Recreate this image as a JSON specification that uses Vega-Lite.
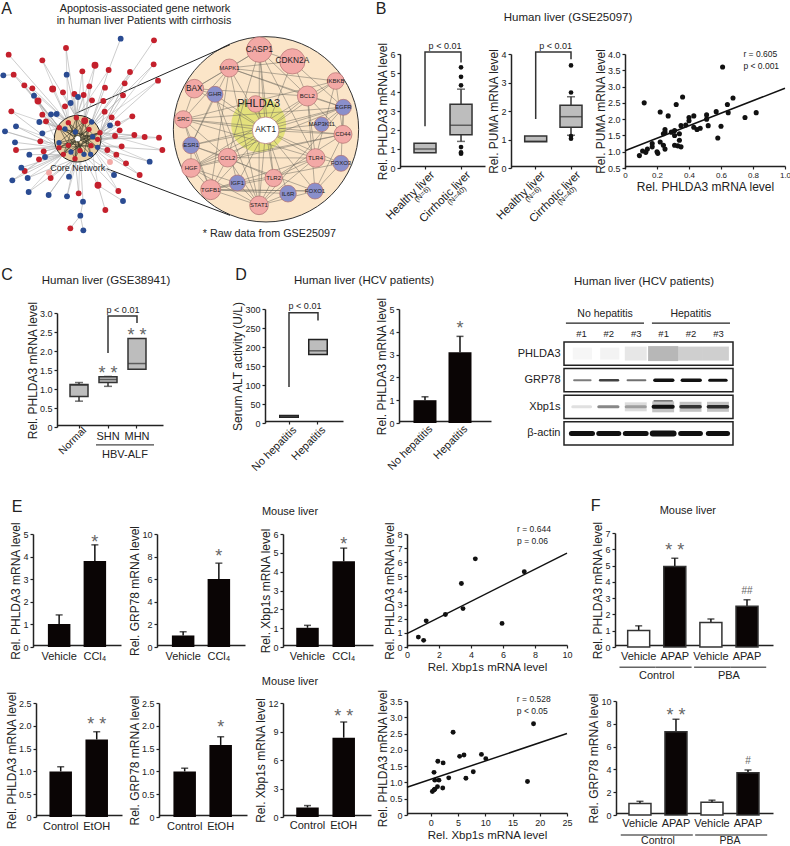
{"$schema":"https://vega.github.io/schema/vega-lite/v6.json","width":790,"height":846,"autosize":{"type":"fit","contains":"padding"},"padding":0,"background":"white",
"config":{"view":{"stroke":null},"axis":{"grid":false,"domainColor":"#222","domainWidth":1.5,"tickColor":"#222","tickWidth":1.2,"tickSize":3,"labelColor":"#222","labelFont":"Liberation Sans","labelFontSize":9,"titleFont":"Liberation Sans","titleFontSize":12,"titleFontWeight":"normal","titleColor":"#222","labelPadding":2,"titlePadding":0,"labelOverlap":false,"labelFlush":false},"text":{"font":"Liberation Sans","color":"#222"},"tick":{"color":"#333","thickness":1.5}},
"resolve":{"scale":{"x":"independent","y":"independent","fill":"independent","color":"independent","size":"independent","opacity":"independent"},"axis":{"x":"independent","y":"independent"}},
"datasets":{
"outer":[{"x":26,"y":158,"k":"r","tx":205,"ty":362},{"x":127,"y":175,"k":"r","tx":229,"ty":347},{"x":198,"y":138,"k":"r","tx":229,"ty":347},{"x":462,"y":115,"k":"r","tx":374,"ty":244},{"x":285,"y":190,"k":"r","tx":254,"ty":356},{"x":461,"y":187,"k":"r","tx":267,"ty":382},{"x":247,"y":208,"k":"r","tx":254,"ty":356},{"x":326,"y":204,"k":"r","tx":267,"ty":382},{"x":390,"y":210,"k":"r","tx":267,"ty":382},{"x":41,"y":218,"k":"r","tx":178,"ty":377},{"x":474,"y":236,"k":"r","tx":300,"ty":392},{"x":73,"y":250,"k":"r","tx":178,"ty":377},{"x":97,"y":259,"k":"r","tx":205,"ty":362},{"x":158,"y":261,"k":"r","tx":205,"ty":362},{"x":189,"y":271,"k":"r","tx":229,"ty":347},{"x":223,"y":276,"k":"r","tx":229,"ty":347},{"x":268,"y":253,"k":"r","tx":254,"ty":356},{"x":315,"y":257,"k":"r","tx":267,"ty":382},{"x":374,"y":244,"k":"r","tx":267,"ty":382},{"x":369,"y":280,"k":"r","tx":300,"ty":392},{"x":251,"y":279,"k":"r","tx":229,"ty":347},{"x":114,"y":297,"k":"r","tx":178,"ty":377},{"x":276,"y":295,"k":"r","tx":254,"ty":356},{"x":310,"y":297,"k":"r","tx":267,"ty":382},{"x":195,"y":313,"k":"r","tx":205,"ty":362},{"x":34,"y":328,"k":"r","tx":177,"ty":437},{"x":127,"y":338,"k":"r","tx":178,"ty":377},{"x":314,"y":329,"k":"r","tx":300,"ty":392},{"x":138,"y":358,"k":"r","tx":178,"ty":377},{"x":335,"y":346,"k":"r","tx":300,"ty":392},{"x":397,"y":343,"k":"r","tx":300,"ty":392},{"x":353,"y":364,"k":"r","tx":300,"ty":392},{"x":359,"y":385,"k":"r","tx":293,"ty":412},{"x":403,"y":399,"k":"r","tx":293,"ty":412},{"x":434,"y":405,"k":"r","tx":293,"ty":412},{"x":477,"y":407,"k":"r","tx":293,"ty":412},{"x":345,"y":402,"k":"r","tx":293,"ty":412},{"x":487,"y":444,"k":"r","tx":273,"ty":431},{"x":365,"y":433,"k":"r","tx":273,"ty":431},{"x":349,"y":458,"k":"r","tx":273,"ty":431},{"x":322,"y":444,"k":"r","tx":273,"ty":431},{"x":121,"y":418,"k":"r","tx":205,"ty":430},{"x":131,"y":448,"k":"r","tx":177,"ty":437},{"x":48,"y":444,"k":"r","tx":177,"ty":437},{"x":117,"y":472,"k":"r","tx":190,"ty":457},{"x":74,"y":507,"k":"r","tx":190,"ty":457},{"x":152,"y":528,"k":"r","tx":225,"ty":470},{"x":378,"y":484,"k":"r","tx":273,"ty":431},{"x":419,"y":519,"k":"r","tx":273,"ty":431},{"x":294,"y":550,"k":"r","tx":240,"ty":446},{"x":355,"y":567,"k":"r","tx":240,"ty":446},{"x":236,"y":574,"k":"r","tx":225,"ty":470},{"x":316,"y":624,"k":"r","tx":294,"ty":550},{"x":211,"y":679,"k":"r","tx":241,"ty":641},{"x":330,"y":480,"k":"up","tx":273,"ty":431},{"x":147,"y":512,"k":"up","tx":190,"ty":457},
{"x":362,"y":110,"k":"b","tx":326,"ty":204},{"x":200,"y":218,"k":"b","tx":229,"ty":347},{"x":10,"y":220,"k":"b","tx":41,"ty":218},{"x":102,"y":281,"k":"b","tx":178,"ty":377},{"x":234,"y":285,"k":"b","tx":229,"ty":347},{"x":212,"y":303,"k":"b","tx":229,"ty":347},{"x":153,"y":337,"k":"b","tx":205,"ty":362},{"x":170,"y":336,"k":"b","tx":205,"ty":362},{"x":118,"y":360,"k":"b","tx":178,"ty":377},{"x":48,"y":373,"k":"b","tx":177,"ty":437},{"x":15,"y":388,"k":"b","tx":177,"ty":437},{"x":127,"y":394,"k":"b","tx":178,"ty":377},{"x":330,"y":370,"k":"b","tx":293,"ty":412},{"x":45,"y":421,"k":"b","tx":177,"ty":437},{"x":88,"y":458,"k":"b","tx":190,"ty":457},{"x":135,"y":465,"k":"b","tx":190,"ty":457},{"x":64,"y":497,"k":"b","tx":190,"ty":457},{"x":37,"y":535,"k":"b","tx":190,"ty":457},{"x":83,"y":528,"k":"b","tx":225,"ty":470},{"x":207,"y":524,"k":"b","tx":225,"ty":470},{"x":342,"y":519,"k":"b","tx":240,"ty":446},{"x":449,"y":479,"k":"b","tx":273,"ty":431},{"x":86,"y":570,"k":"b","tx":225,"ty":470},{"x":146,"y":579,"k":"b","tx":225,"ty":470},{"x":201,"y":583,"k":"b","tx":225,"ty":470},{"x":249,"y":599,"k":"b","tx":240,"ty":446},{"x":369,"y":597,"k":"b","tx":294,"ty":550},{"x":241,"y":641,"k":"b","tx":249,"ty":599},{"x":250,"y":685,"k":"b","tx":241,"ty":641}],
"links":[{"x":73,"y":250,"tx":205,"ty":430},{"x":97,"y":259,"tx":177,"ty":437},{"x":41,"y":218,"tx":205,"ty":362},{"x":114,"y":297,"tx":205,"ty":430},{"x":34,"y":328,"tx":178,"ty":377},{"x":48,"y":373,"tx":205,"ty":430},{"x":15,"y":388,"tx":121,"ty":418},{"x":48,"y":444,"tx":205,"ty":430},{"x":74,"y":507,"tx":177,"ty":437},{"x":37,"y":535,"tx":177,"ty":437},{"x":83,"y":528,"tx":190,"ty":457},{"x":86,"y":570,"tx":190,"ty":457},{"x":146,"y":579,"tx":240,"ty":446},{"x":201,"y":583,"tx":240,"ty":446},{"x":236,"y":574,"tx":240,"ty":446},{"x":294,"y":550,"tx":273,"ty":431},{"x":355,"y":567,"tx":273,"ty":431},{"x":342,"y":519,"tx":273,"ty":431},{"x":419,"y":519,"tx":293,"ty":412},{"x":378,"y":484,"tx":293,"ty":412},{"x":449,"y":479,"tx":293,"ty":412},{"x":487,"y":444,"tx":300,"ty":392},{"x":477,"y":407,"tx":300,"ty":392},{"x":403,"y":399,"tx":300,"ty":392},{"x":397,"y":343,"tx":293,"ty":412},{"x":474,"y":236,"tx":267,"ty":382},{"x":461,"y":187,"tx":300,"ty":392},{"x":390,"y":210,"tx":300,"ty":392},{"x":374,"y":244,"tx":300,"ty":392},{"x":369,"y":280,"tx":267,"ty":382},{"x":326,"y":204,"tx":229,"ty":347},{"x":285,"y":190,"tx":229,"ty":347},{"x":247,"y":208,"tx":229,"ty":347},{"x":198,"y":138,"tx":205,"ty":362},{"x":127,"y":175,"tx":205,"ty":362},{"x":127,"y":338,"tx":205,"ty":430},{"x":353,"y":364,"tx":273,"ty":431},{"x":345,"y":402,"tx":273,"ty":431},{"x":117,"y":472,"tx":205,"ty":430},{"x":131,"y":448,"tx":205,"ty":430}],
"coreNodes":[{"x":205,"y":362,"k":"r"},{"x":229,"y":347,"k":"r"},{"x":178,"y":377,"k":"r"},{"x":267,"y":382,"k":"r"},{"x":300,"y":392,"k":"r"},{"x":293,"y":412,"k":"r"},{"x":205,"y":430,"k":"r"},{"x":177,"y":437,"k":"r"},{"x":240,"y":446,"k":"r"},{"x":273,"y":431,"k":"r"},{"x":190,"y":457,"k":"r"},{"x":225,"y":470,"k":"r"},{"x":195,"y":381,"k":"b"},{"x":226,"y":390,"k":"b"},{"x":278,"y":404,"k":"b"},{"x":293,"y":436,"k":"b"},{"x":213,"y":450,"k":"b"},{"x":252,"y":457,"k":"b"},{"x":272,"y":457,"k":"b"},{"x":177,"y":422,"k":"b"},{"x":275,"y":360,"k":"b"},{"x":233,"y":410,"k":"hub"}],
"coreEdges":[{"x":205,"y":362,"tx":273,"ty":431},{"x":229,"y":347,"tx":225,"ty":470},{"x":254,"y":356,"tx":190,"ty":457},{"x":178,"y":377,"tx":293,"ty":412},{"x":267,"y":382,"tx":177,"ty":437},{"x":300,"y":392,"tx":205,"ty":430},{"x":293,"y":436,"tx":195,"ty":381},{"x":240,"y":446,"tx":226,"ty":390},{"x":213,"y":450,"tx":278,"ty":404},{"x":252,"y":457,"tx":205,"ty":362},{"x":272,"y":457,"tx":229,"ty":347},{"x":177,"y":422,"tx":300,"ty":392},{"x":275,"y":360,"tx":190,"ty":457},{"x":233,"y":410,"tx":205,"ty":362},{"x":233,"y":410,"tx":229,"ty":347},{"x":233,"y":410,"tx":254,"ty":356},{"x":233,"y":410,"tx":178,"ty":377},{"x":233,"y":410,"tx":267,"ty":382},{"x":233,"y":410,"tx":300,"ty":392},{"x":233,"y":410,"tx":293,"ty":412},{"x":233,"y":410,"tx":205,"ty":430},{"x":233,"y":410,"tx":177,"ty":437},{"x":233,"y":410,"tx":240,"ty":446},{"x":233,"y":410,"tx":273,"ty":431},{"x":233,"y":410,"tx":190,"ty":457},{"x":233,"y":410,"tx":225,"ty":470},{"x":178,"y":377,"tx":240,"ty":446},{"x":195,"y":381,"tx":272,"ty":457},{"x":205,"y":362,"tx":293,"ty":436},{"x":229,"y":347,"tx":293,"ty":412},{"x":254,"y":356,"tx":177,"ty":422},{"x":254,"y":356,"tx":225,"ty":470},{"x":178,"y":377,"tx":273,"ty":431},{"x":177,"y":437,"tx":300,"ty":392},{"x":190,"y":457,"tx":278,"ty":404},{"x":225,"y":470,"tx":267,"ty":382},{"x":205,"y":430,"tx":267,"ty":382},{"x":177,"y":422,"tx":293,"ty":436},{"x":205,"y":362,"tx":252,"ty":457},{"x":229,"y":347,"tx":190,"ty":457},{"x":178,"y":377,"tx":225,"ty":470},{"x":300,"y":392,"tx":213,"ty":450},{"x":293,"y":412,"tx":195,"ty":381},{"x":267,"y":382,"tx":252,"ty":457},{"x":254,"y":356,"tx":272,"ty":457},{"x":273,"y":431,"tx":177,"ty":437}],
"genes":[{"gene":"CASP1","x":778,"y":143,"k":"up","d":76,"l":2},{"gene":"CDKN2A","x":877,"y":178,"k":"up","d":76,"l":2},{"gene":"MAPK1","x":688,"y":198,"k":"up","d":54,"l":3},{"gene":"IKBKB","x":1007,"y":237,"k":"up","d":50,"l":3},{"gene":"BAX","x":583,"y":260,"k":"up","d":56,"l":2},{"gene":"GHR","x":645,"y":277,"k":"down","d":48,"l":3},{"gene":"BCL2","x":922,"y":282,"k":"up","d":60,"l":3},{"gene":"PHLDA3","x":767,"y":306,"k":"up","d":50,"l":1},{"gene":"EGFR","x":1030,"y":316,"k":"down","d":48,"l":3},{"gene":"SRC","x":550,"y":352,"k":"up","d":52,"l":3},{"gene":"MAP3K11","x":965,"y":367,"k":"down","d":44,"l":3},{"gene":"AKT1","x":797,"y":385,"k":"hub","d":80,"l":2},{"gene":"CD44","x":1029,"y":397,"k":"up","d":54,"l":3},{"gene":"ESR1","x":573,"y":430,"k":"down","d":50,"l":3},{"gene":"CCL2","x":683,"y":467,"k":"up","d":56,"l":3},{"gene":"TLR4","x":947,"y":468,"k":"up","d":56,"l":3},{"gene":"FOXO3","x":1023,"y":484,"k":"down","d":48,"l":3},{"gene":"HGF","x":573,"y":498,"k":"up","d":56,"l":3},{"gene":"IGF1","x":712,"y":543,"k":"down","d":48,"l":3},{"gene":"TLR2","x":821,"y":528,"k":"up","d":52,"l":3},{"gene":"TGFB1","x":632,"y":563,"k":"up","d":60,"l":3},{"gene":"IL6R","x":864,"y":575,"k":"down","d":50,"l":3},{"gene":"FOXO1","x":945,"y":567,"k":"down","d":48,"l":3},{"gene":"STAT1","x":777,"y":610,"k":"up","d":56,"l":3}],
"geneLinks":[{"s":"AKT1","t":"CASP1"},{"s":"AKT1","t":"CDKN2A"},{"s":"AKT1","t":"MAPK1"},{"s":"AKT1","t":"IKBKB"},{"s":"AKT1","t":"BAX"},{"s":"AKT1","t":"GHR"},{"s":"AKT1","t":"BCL2"},{"s":"AKT1","t":"PHLDA3"},{"s":"AKT1","t":"EGFR"},{"s":"AKT1","t":"SRC"},{"s":"AKT1","t":"MAP3K11"},{"s":"AKT1","t":"CD44"},{"s":"AKT1","t":"ESR1"},{"s":"AKT1","t":"CCL2"},{"s":"AKT1","t":"TLR4"},{"s":"AKT1","t":"FOXO3"},{"s":"AKT1","t":"HGF"},{"s":"AKT1","t":"IGF1"},{"s":"AKT1","t":"TLR2"},{"s":"AKT1","t":"TGFB1"},{"s":"AKT1","t":"IL6R"},{"s":"AKT1","t":"FOXO1"},{"s":"AKT1","t":"STAT1"},{"s":"CASP1","t":"MAPK1"},{"s":"CASP1","t":"CDKN2A"},{"s":"CASP1","t":"BCL2"},{"s":"CASP1","t":"TLR4"},{"s":"CASP1","t":"TLR2"},{"s":"CASP1","t":"STAT1"},{"s":"CASP1","t":"CCL2"},{"s":"CASP1","t":"BAX"},{"s":"CDKN2A","t":"BCL2"},{"s":"CDKN2A","t":"MAPK1"},{"s":"CDKN2A","t":"EGFR"},{"s":"MAPK1","t":"IKBKB"},{"s":"MAPK1","t":"BCL2"},{"s":"MAPK1","t":"EGFR"},{"s":"MAPK1","t":"BAX"},{"s":"MAPK1","t":"SRC"},{"s":"MAPK1","t":"TGFB1"},{"s":"MAPK1","t":"STAT1"},{"s":"MAPK1","t":"ESR1"},{"s":"BAX","t":"BCL2"},{"s":"BAX","t":"SRC"},{"s":"BAX","t":"GHR"},{"s":"GHR","t":"IGF1"},{"s":"GHR","t":"ESR1"},{"s":"GHR","t":"STAT1"},{"s":"IKBKB","t":"BCL2"},{"s":"IKBKB","t":"TLR4"},{"s":"IKBKB","t":"CD44"},{"s":"IKBKB","t":"SRC"},{"s":"BCL2","t":"EGFR"},{"s":"BCL2","t":"CD44"},{"s":"BCL2","t":"TLR4"},{"s":"BCL2","t":"HGF"},{"s":"BCL2","t":"FOXO1"},{"s":"EGFR","t":"SRC"},{"s":"EGFR","t":"CD44"},{"s":"EGFR","t":"FOXO3"},{"s":"EGFR","t":"ESR1"},{"s":"EGFR","t":"HGF"},{"s":"EGFR","t":"STAT1"},{"s":"EGFR","t":"MAP3K11"},{"s":"SRC","t":"ESR1"},{"s":"SRC","t":"CD44"},{"s":"SRC","t":"TGFB1"},{"s":"SRC","t":"CCL2"},{"s":"SRC","t":"TLR4"},{"s":"CD44","t":"HGF"},{"s":"CD44","t":"CCL2"},{"s":"CD44","t":"FOXO1"},{"s":"CD44","t":"TLR2"},{"s":"ESR1","t":"HGF"},{"s":"ESR1","t":"CCL2"},{"s":"ESR1","t":"TGFB1"},{"s":"ESR1","t":"FOXO1"},{"s":"CCL2","t":"TLR4"},{"s":"CCL2","t":"TLR2"},{"s":"CCL2","t":"HGF"},{"s":"CCL2","t":"STAT1"},{"s":"CCL2","t":"TGFB1"},{"s":"TLR4","t":"TLR2"},{"s":"TLR4","t":"STAT1"},{"s":"TLR4","t":"FOXO3"},{"s":"TLR4","t":"TGFB1"},{"s":"HGF","t":"IGF1"},{"s":"HGF","t":"TGFB1"},{"s":"HGF","t":"STAT1"},{"s":"IGF1","t":"TGFB1"},{"s":"IGF1","t":"STAT1"},{"s":"IGF1","t":"FOXO3"},{"s":"TLR2","t":"STAT1"},{"s":"TLR2","t":"TGFB1"},{"s":"TGFB1","t":"STAT1"},{"s":"TGFB1","t":"FOXO1"},{"s":"IL6R","t":"STAT1"},{"s":"IL6R","t":"TGFB1"},{"s":"FOXO1","t":"STAT1"},{"s":"FOXO1","t":"TGFB1"},{"s":"FOXO1","t":"FOXO3"}]
},
"layer":[
{"encoding":{"x":{"field":"x","type":"quantitative","scale":{"domain":[0,1140],"range":[0,380],"nice":false,"zero":false},"axis":null},"y":{"field":"y","type":"quantitative","scale":{"domain":[0,780],"range":[0,260],"nice":false,"zero":false},"axis":null}},
"layer":[
{"data":{"values":[{"x":798,"y":382}]},"mark":{"type":"circle","size":34336,"fill":"#fbe5c8","stroke":"#333","strokeWidth":1,"opacity":1}},
{"data":{"values":[{"x":225,"y":335,"tx":690,"ty":128},{"x":320,"y":500,"tx":690,"ty":640}]},"mark":{"type":"rule","color":"#222","strokeWidth":1},"encoding":{"x2":{"field":"tx"},"y2":{"field":"ty"}}},
{"data":{"name":"links"},"mark":{"type":"rule","color":"#aaa","strokeWidth":0.5},"encoding":{"x2":{"field":"tx"},"y2":{"field":"ty"}}},
{"data":{"name":"outer"},"mark":{"type":"rule","color":"#aaa","strokeWidth":0.6},"encoding":{"x2":{"field":"tx"},"y2":{"field":"ty"}}},
{"data":{"values":[{"x":233,"y":410}]},"mark":{"type":"circle","size":2178,"fill":"#e9cfa3","stroke":"#222","strokeWidth":1,"opacity":1}},
{"data":{"name":"coreEdges"},"mark":{"type":"rule","color":"#3a3a2a","strokeWidth":0.6},"encoding":{"x2":{"field":"tx"},"y2":{"field":"ty"}}},
{"data":{"name":"outer"},"mark":{"type":"circle","size":34,"opacity":1},"encoding":{"fill":{"field":"k","type":"nominal","scale":{"domain":["r","b","up","down","hub"],"range":["#c4202c","#2a4b92","#f3a9a6","#8a8fcb","#ffffff"]},"legend":null}}},
{"data":{"values":[{"x":285,"y":190},{"x":254,"y":356},{"x":158,"y":261},{"x":114,"y":297},{"x":294,"y":550}]},"mark":{"type":"circle","size":48,"color":"#c4202c","opacity":1}},
{"data":{"name":"coreNodes"},"mark":{"type":"circle","size":28,"opacity":1},"encoding":{"fill":{"field":"k","type":"nominal","scale":{"domain":["r","b","up","down","hub"],"range":["#c4202c","#2a4b92","#f3a9a6","#8a8fcb","#ffffff"]},"legend":null}}},
{"data":{"values":[{"x":776,"y":368}]},"mark":{"type":"circle","size":3025,"fill":"#dfe16e","opacity":0.85}},
{"data":{"name":"geneLinks"},"transform":[{"lookup":"s","from":{"data":{"name":"genes"},"key":"gene","fields":["x","y"]}},{"lookup":"t","from":{"data":{"name":"genes"},"key":"gene","fields":["x","y"]},"as":["tx","ty"]}],"mark":{"type":"rule","color":"#6f6a60","strokeWidth":0.5},"encoding":{"x2":{"field":"tx"},"y2":{"field":"ty"}}},
{"data":{"name":"genes"},"layer":[
{"mark":{"type":"circle","stroke":"#b07070","strokeWidth":0.7,"opacity":1},"encoding":{"fill":{"field":"k","type":"nominal","scale":{"domain":["r","b","up","down","hub"],"range":["#c4202c","#2a4b92","#f3a9a6","#8a8fcb","#ffffff"]},"legend":null},"size":{"field":"d","type":"quantitative","scale":{"type":"pow","exponent":2,"domain":[0,100],"range":[0,1111]},"legend":null}}},
{"transform":[{"filter":"datum.l==1"}],"mark":{"type":"text","fontSize":11,"dx":3,"color":"#222"},"encoding":{"text":{"field":"gene"}}},
{"transform":[{"filter":"datum.l==2"}],"mark":{"type":"text","fontSize":8.3,"color":"#222"},"encoding":{"text":{"field":"gene"}}},
{"transform":[{"filter":"datum.l==3"}],"mark":{"type":"text","fontSize":6,"color":"#222"},"encoding":{"text":{"field":"gene"}}}]},
{"data":{"values":[{"x":435,"y":21,"t":"Apoptosis-associated gene network"},{"x":432,"y":58,"t":"in human liver Patients with cirrhosis"},{"x":808,"y":697,"t":"* Raw data from GSE25097"}]},"mark":{"type":"text","fontSize":10.8},"encoding":{"text":{"field":"t"}}},
{"data":{"values":[{"x":233,"y":497,"t":"Core Network"}]},"mark":{"type":"text","fontSize":9},"encoding":{"text":{"field":"t"}}},
{"data":{"values":[{"x":20,"y":20,"t":"A"}]},"mark":{"type":"text","fontSize":16},"encoding":{"text":{"field":"t"}}}
]},

{"encoding":{"x":{"field":"c","type":"nominal","scale":{"type":"band","domain":["Healthy liver","Cirrhotic liver"],"range":[400,485],"paddingInner":0,"paddingOuter":0.18,"align":0.54},"axis":{"orient":"bottom","offset":-680,"title":null,"labelAngle":-45,"labelAlign":"right","labelBaseline":"middle","labelFontSize":11.5,"labelOffset":8,"labelPadding":4}},"y":{"field":"v","type":"quantitative","scale":{"domain":[0,6],"range":[166,52],"nice":false},"axis":{"orient":"left","offset":-400,"values":[0,1,2,3,4,5,6],"title":"Rel. PHLDA3 mRNA level"}}},
"layer":[
{"data":{"values":[{"c":"Healthy liver","v":0.8,"u":1.3,"m":1.0},{"c":"Cirrhotic liver","v":1.75,"u":3.35,"m":2.25,"lo":1.4,"hi":4.15}]},"layer":[
{"mark":{"type":"rule","color":"#333","strokeWidth":1.5},"encoding":{"y":{"field":"lo","type":"quantitative"},"y2":{"field":"hi"}}},
{"mark":{"type":"tick","size":8},"encoding":{"y":{"field":"lo","type":"quantitative"}}},
{"mark":{"type":"tick","size":8},"encoding":{"y":{"field":"hi","type":"quantitative"}}},
{"mark":{"type":"bar","size":22,"fill":"#bdbdbd","stroke":"#333","strokeWidth":1.5},"encoding":{"y2":{"field":"u"}}},
{"mark":{"type":"tick","size":22},"encoding":{"y":{"field":"m","type":"quantitative"}}}]},
{"data":{"values":[{"c":"Cirrhotic liver","v":0.75},{"c":"Cirrhotic liver","v":0.82},{"c":"Cirrhotic liver","v":1.1},{"c":"Cirrhotic liver","v":4.35},{"c":"Cirrhotic liver","v":4.8},{"c":"Cirrhotic liver","v":5.3}]},"mark":{"type":"circle","size":22,"color":"#111","opacity":1}},
{"data":{"values":[{"c":"Healthy liver","v":2.2,"o":1},{"c":"Healthy liver","v":6.1,"o":2},{"c":"Cirrhotic liver","v":6.1,"o":3},{"c":"Cirrhotic liver","v":5.55,"o":4}]},"mark":{"type":"line","color":"#333","strokeWidth":1.5},"encoding":{"order":{"field":"o"}}},
{"data":{"values":[{"c":"Healthy liver","v":6.42,"t":"p < 0.01"}]},"mark":{"type":"text","fontSize":9,"dx":20},"encoding":{"text":{"field":"t"}}},
{"data":{"values":[{"c":"Healthy liver","v":-1.26,"t":"(N=6)"},{"c":"Cirrhotic liver","v":-1.26,"t":"(N=40)"}]},"mark":{"type":"text","fontSize":7.5,"angle":315,"align":"right","dx":6},"encoding":{"text":{"field":"t"}}}
]},

{"encoding":{"x":{"field":"c","type":"nominal","scale":{"type":"band","domain":["Healthy liver","Cirrhotic liver"],"range":[511,597],"paddingInner":0,"paddingOuter":0.218,"align":0.458},"axis":{"orient":"bottom","offset":-680,"title":null,"labelAngle":-45,"labelAlign":"right","labelBaseline":"middle","labelFontSize":11.5,"labelOffset":8,"labelPadding":4}},"y":{"field":"v","type":"quantitative","scale":{"domain":[0,4],"range":[166,52],"nice":false},"axis":{"orient":"left","offset":-511,"values":[0,1,2,3,4],"title":"Rel. PUMA mRNA level"}}},
"layer":[
{"data":{"values":[{"c":"Healthy liver","v":0.92,"u":1.12,"m":0.94},{"c":"Cirrhotic liver","v":1.43,"u":2.2,"m":1.8,"lo":1.15,"hi":2.5}]},"layer":[
{"mark":{"type":"rule","color":"#333","strokeWidth":1.5},"encoding":{"y":{"field":"lo","type":"quantitative"},"y2":{"field":"hi"}}},
{"mark":{"type":"tick","size":8},"encoding":{"y":{"field":"lo","type":"quantitative"}}},
{"mark":{"type":"tick","size":8},"encoding":{"y":{"field":"hi","type":"quantitative"}}},
{"mark":{"type":"bar","size":22,"fill":"#bdbdbd","stroke":"#333","strokeWidth":1.5},"encoding":{"y2":{"field":"u"}}},
{"mark":{"type":"tick","size":22},"encoding":{"y":{"field":"m","type":"quantitative"}}}]},
{"data":{"values":[{"c":"Cirrhotic liver","v":1.03},{"c":"Cirrhotic liver","v":1.12},{"c":"Cirrhotic liver","v":2.65},{"c":"Cirrhotic liver","v":3.6}]},"mark":{"type":"circle","size":22,"color":"#111","opacity":1}},
{"data":{"values":[{"c":"Healthy liver","v":1.72,"o":1},{"c":"Healthy liver","v":4.07,"o":2},{"c":"Cirrhotic liver","v":4.07,"o":3},{"c":"Cirrhotic liver","v":3.82,"o":4}]},"mark":{"type":"line","color":"#333","strokeWidth":1.5},"encoding":{"order":{"field":"o"}}},
{"data":{"values":[{"c":"Healthy liver","v":4.28,"t":"p < 0.01"}]},"mark":{"type":"text","fontSize":9,"dx":20},"encoding":{"text":{"field":"t"}}},
{"data":{"values":[{"c":"Healthy liver","v":-0.84,"t":"(N=6)"},{"c":"Cirrhotic liver","v":-0.84,"t":"(N=40)"}]},"mark":{"type":"text","fontSize":7.5,"angle":315,"align":"right","dx":6},"encoding":{"text":{"field":"t"}}}
]},

{"encoding":{"x":{"field":"x","type":"quantitative","scale":{"domain":[0,1],"range":[625,785],"nice":false},"axis":{"orient":"bottom","offset":-680,"values":[0,0.2,0.4,0.6,0.8,1],"labelExpr":"datum.value==0?'0':format(datum.value,'.1f')","labelFontSize":8,"titlePadding":2,"title":"Rel. PHLDA3 mRNA level"}},"y":{"field":"y","type":"quantitative","scale":{"domain":[0.5,4],"range":[166,52],"nice":false,"zero":false},"axis":{"orient":"left","offset":-625,"values":[0.5,1,1.5,2,2.5,3,3.5,4],"format":".1f","title":"Rel. PUMA mRNA level"}}},
"layer":[
{"data":{"values":[{"x":0.09,"y":0.88},{"x":0.11,"y":1.02},{"x":0.13,"y":0.98},{"x":0.14,"y":1.08},{"x":0.12,"y":2.5},{"x":0.17,"y":1.15},{"x":0.17,"y":1.25},{"x":0.2,"y":1.0},{"x":0.205,"y":0.95},{"x":0.22,"y":1.3},{"x":0.22,"y":2.22},{"x":0.24,"y":1.2},{"x":0.25,"y":1.08},{"x":0.24,"y":1.55},{"x":0.25,"y":1.6},{"x":0.25,"y":1.68},{"x":0.27,"y":2.1},{"x":0.29,"y":1.6},{"x":0.31,"y":1.5},{"x":0.31,"y":1.65},{"x":0.31,"y":1.2},{"x":0.33,"y":1.18},{"x":0.32,"y":2.45},{"x":0.34,"y":1.35},{"x":0.34,"y":1.55},{"x":0.35,"y":1.15},{"x":0.35,"y":1.8},{"x":0.36,"y":2.68},{"x":0.38,"y":1.82},{"x":0.4,"y":1.95},{"x":0.4,"y":2.05},{"x":0.43,"y":2.1},{"x":0.43,"y":1.75},{"x":0.45,"y":1.68},{"x":0.47,"y":1.72},{"x":0.51,"y":2.0},{"x":0.51,"y":2.13},{"x":0.52,"y":1.8},{"x":0.57,"y":2.23},{"x":0.58,"y":1.42},{"x":0.6,"y":1.78},{"x":0.61,"y":3.6},{"x":0.64,"y":2.45},{"x":0.645,"y":2.2},{"x":0.675,"y":2.65},{"x":0.75,"y":2.05},{"x":0.82,"y":2.2}]},"mark":{"type":"circle","size":26,"color":"#111","opacity":1}},
{"data":{"values":[{"x":0,"y":1.03},{"x":1,"y":2.95}]},"mark":{"type":"line","color":"#111","strokeWidth":1.5}},
{"data":{"values":[{"x":0.74,"y":4.0,"t":"r = 0.605"},{"x":0.74,"y":3.64,"t":"p < 0.001"}]},"mark":{"type":"text","fontSize":8.5,"align":"left"},"encoding":{"text":{"field":"t"}}},
{"data":{"values":[{"x":-0.356,"y":5.1,"t":"Human liver (GSE25097)"}]},"mark":{"type":"text","fontSize":11.5},"encoding":{"text":{"field":"t"}}},
{"data":{"values":[{"x":-1.525,"y":5.38,"t":"B"}]},"mark":{"type":"text","fontSize":16},"encoding":{"text":{"field":"t"}}}
]},

{"encoding":{"x":{"field":"c","type":"nominal","scale":{"type":"band","domain":["Normal","SHN","MHN"],"range":[57,163],"paddingInner":0,"paddingOuter":0.328,"align":0.395},"axis":{"orient":"bottom","offset":-421,"title":null,"labels":false}},"y":{"field":"v","type":"quantitative","scale":{"domain":[0,3],"range":[425,311],"nice":false},"axis":{"orient":"left","offset":-57,"values":[0,0.5,1,1.5,2,2.5,3],"labelExpr":"datum.value==0?'0':format(datum.value,'.1f')","title":"Rel. PHLDA3 mRNA level"}}},
"layer":[
{"data":{"values":[{"c":"Normal","v":0.8,"u":1.12,"m":1.1,"lo":0.68,"hi":1.17},{"c":"SHN","v":1.17,"u":1.32,"m":1.25,"lo":1.07,"hi":1.33},{"c":"MHN","v":1.52,"u":2.33,"m":1.67}]},"layer":[
{"mark":{"type":"rule","color":"#333","strokeWidth":1.5},"encoding":{"y":{"field":"lo","type":"quantitative"},"y2":{"field":"hi"}}},
{"mark":{"type":"tick","size":8},"encoding":{"y":{"field":"lo","type":"quantitative"}}},
{"mark":{"type":"tick","size":8},"encoding":{"y":{"field":"hi","type":"quantitative"}}},
{"mark":{"type":"bar","size":18,"fill":"#bdbdbd","stroke":"#333","strokeWidth":1.5},"encoding":{"y2":{"field":"u"}}},
{"mark":{"type":"tick","size":18},"encoding":{"y":{"field":"m","type":"quantitative"}}}]},
{"data":{"values":[{"c":"SHN","v":1.95,"o":1},{"c":"SHN","v":2.92,"o":2},{"c":"MHN","v":2.92,"o":3},{"c":"MHN","v":2.74,"o":4}]},"mark":{"type":"line","color":"#333","strokeWidth":1.5},"encoding":{"order":{"field":"o"}}},
{"data":{"values":[{"c":"SHN","v":3.08,"t":"p < 0.01"}]},"mark":{"type":"text","fontSize":9,"dx":15},"encoding":{"text":{"field":"t"}}},
{"data":{"values":[{"c":"SHN","v":1.26,"t":"* *"},{"c":"MHN","v":2.26,"t":"* *"}]},"mark":{"type":"text","fontSize":18,"baseline":"alphabetic","color":"#666"},"encoding":{"text":{"field":"t"}}},
{"data":{"values":[{"c":"Normal","v":-0.2,"t":"Normal"}]},"mark":{"type":"text","fontSize":10.5,"angle":315,"align":"right","dx":8},"encoding":{"text":{"field":"t"}}},
{"data":{"values":[{"c":"SHN","v":-0.26,"t":"SHN"},{"c":"MHN","v":-0.26,"t":"MHN"}]},"mark":{"type":"text","fontSize":11},"encoding":{"text":{"field":"t"}}},
{"data":{"values":[{"c":"SHN","v":-0.47},{"c":"MHN","v":-0.47}]},"mark":{"type":"tick","size":29,"xOffset":2.5,"color":"#222"}},
{"data":{"values":[{"c":"SHN","v":-0.74,"t":"HBV-ALF"}]},"mark":{"type":"text","fontSize":11,"dx":17},"encoding":{"text":{"field":"t"}}},
{"data":{"values":[{"c":"Normal","v":3.84,"t":"Human liver (GSE38941)"}]},"mark":{"type":"text","fontSize":11.5,"dx":27},"encoding":{"text":{"field":"t"}}},
{"data":{"values":[{"c":"Normal","v":4.0,"t":"C"}]},"mark":{"type":"text","fontSize":16,"dx":-72},"encoding":{"text":{"field":"t"}}}
]},

{"encoding":{"x":{"field":"c","type":"nominal","scale":{"type":"band","domain":["No hepatitis","Hepatitis"],"range":[265,343],"paddingInner":0,"paddingOuter":0.345,"align":0.475},"axis":{"orient":"bottom","offset":-425,"title":null,"labelAngle":-45,"labelAlign":"right","labelBaseline":"middle","labelFontSize":11,"labelOffset":6,"labelPadding":4}},"y":{"field":"v","type":"quantitative","scale":{"domain":[0,300],"range":[421,307],"nice":false},"axis":{"orient":"left","offset":-265,"values":[0,50,100,150,200,250,300],"title":"Serum ALT activity (U/L)"}}},
"layer":[
{"data":{"values":[{"c":"No hepatitis","v":15,"u":20,"m":17},{"c":"Hepatitis","v":180,"u":220,"m":190}]},"layer":[
{"mark":{"type":"bar","size":18.5,"fill":"#bdbdbd","stroke":"#222","strokeWidth":1.5},"encoding":{"y2":{"field":"u"}}},
{"mark":{"type":"tick","size":18.5},"encoding":{"y":{"field":"m","type":"quantitative"}}}]},
{"data":{"values":[{"c":"No hepatitis","v":95,"o":1},{"c":"No hepatitis","v":290,"o":2},{"c":"Hepatitis","v":290,"o":3},{"c":"Hepatitis","v":270,"o":4}]},"mark":{"type":"line","color":"#333","strokeWidth":1.5},"encoding":{"order":{"field":"o"}}},
{"data":{"values":[{"c":"No hepatitis","v":308,"t":"p < 0.01"}]},"mark":{"type":"text","fontSize":9,"dx":16},"encoding":{"text":{"field":"t"}}},
{"data":{"values":[{"c":"No hepatitis","v":389,"t":"D"}]},"mark":{"type":"text","fontSize":16,"dx":-48},"encoding":{"text":{"field":"t"}}}
]},

{"encoding":{"x":{"field":"c","type":"nominal","scale":{"type":"band","domain":["No hepatitis","Hepatitis"],"range":[399,491],"paddingInner":0,"paddingOuter":0.314,"align":0.386},"axis":{"orient":"bottom","offset":-425,"title":null,"ticks":false,"labelAngle":-45,"labelAlign":"right","labelBaseline":"middle","labelFontSize":11,"labelOffset":6,"labelPadding":6}},"y":{"field":"v","type":"quantitative","scale":{"domain":[0,5],"range":[421,307],"nice":false},"axis":{"orient":"left","offset":-399,"values":[0,1,2,3,4,5],"title":"Rel. PHLDA3 mRNA level"}}},
"layer":[
{"data":{"values":[{"c":"No hepatitis","v":1,"u":1.15},{"c":"Hepatitis","v":3.1,"u":3.8}]},"layer":[
{"mark":{"type":"rule","color":"#111","strokeWidth":1.5},"encoding":{"y2":{"field":"u"}}},
{"mark":{"type":"tick","size":7,"color":"#111"},"encoding":{"y":{"field":"u","type":"quantitative"}}},
{"mark":{"type":"bar","size":23,"color":"#0a0505"}}]},
{"data":{"values":[{"c":"Hepatitis","v":3.9,"t":"*"}]},"mark":{"type":"text","fontSize":18,"baseline":"alphabetic","color":"#666"},"encoding":{"text":{"field":"t"}}},
{"data":{"values":[{"c":"No hepatitis","v":6.23,"t":"Human liver (HCV patients)"}]},"mark":{"type":"text","fontSize":11.5,"dx":-61},"encoding":{"text":{"field":"t"}}}
]},

{"encoding":{"x":{"field":"a","type":"quantitative","scale":{"domain":[0.38,6.55],"range":[564,733],"nice":false,"zero":false},"axis":{"orient":"top","offset":-337,"domain":false,"ticks":false,"values":[1,2,3,4,5,6],"labelExpr":"'#'+(datum.value>3?datum.value-3:datum.value)","labelFontSize":9.5,"labelPadding":1,"title":null}},"y":{"field":"c","type":"nominal","scale":{"type":"band","domain":["PHLDA3","GRP78","Xbp1s","β-actin"],"range":[340,443],"paddingInner":0.13,"paddingOuter":0},"axis":{"orient":"left","offset":-564,"domain":false,"ticks":false,"labelFontSize":11,"labelPadding":4,"title":null}}},
"layer":[
{"data":{"values":[{"c":"PHLDA3","a":0.38,"b":6.55},{"c":"GRP78","a":0.38,"b":6.55},{"c":"Xbp1s","a":0.38,"b":6.55},{"c":"β-actin","a":0.38,"b":6.55}]},"mark":{"type":"rect","fill":"white","stroke":"#222","strokeWidth":1.5},"encoding":{"x2":{"field":"b"}}},
{"data":{"values":[{"c":"PHLDA3","a":0.7,"b":1.4,"w":12,"i":0.04},{"c":"PHLDA3","a":1.7,"b":2.4,"w":12,"i":0.05},{"c":"PHLDA3","a":2.6,"b":3.4,"w":14,"i":0.1},{"c":"PHLDA3","a":3.45,"b":4.55,"w":15,"i":0.3},{"c":"PHLDA3","a":4.55,"b":5.45,"w":14,"i":0.2},{"c":"PHLDA3","a":5.45,"b":6.4,"w":14,"i":0.2},{"c":"Xbp1s","a":2.6,"b":3.4,"w":9,"i":0.15},{"c":"Xbp1s","a":3.6,"b":4.4,"w":11,"i":0.25},{"c":"Xbp1s","a":4.6,"b":5.4,"w":10,"i":0.25},{"c":"Xbp1s","a":5.6,"b":6.4,"w":10,"i":0.25}]},"mark":{"type":"rule","color":"#111"},"encoding":{"x2":{"field":"b"},"size":{"field":"w","type":"quantitative","scale":{"domain":[0,15],"range":[0,15]},"legend":null},"opacity":{"field":"i","type":"quantitative","scale":{"domain":[0,1],"range":[0,1]},"legend":null}}},
{"data":{"values":[{"c":"GRP78","a":0.75,"b":1.35,"w":2,"i":0.55},{"c":"GRP78","a":1.7,"b":2.35,"w":2.5,"i":0.8},{"c":"GRP78","a":2.7,"b":3.35,"w":2,"i":0.6},{"c":"GRP78","a":3.7,"b":4.35,"w":3.5,"i":1},{"c":"GRP78","a":4.7,"b":5.35,"w":3.5,"i":1},{"c":"GRP78","a":5.7,"b":6.3,"w":3,"i":1},{"c":"Xbp1s","a":0.7,"b":1.35,"w":3,"i":0.13},{"c":"Xbp1s","a":1.65,"b":2.35,"w":3,"i":0.5},{"c":"Xbp1s","a":2.65,"b":3.35,"w":3,"i":0.3},{"c":"Xbp1s","a":3.65,"b":4.35,"w":4,"i":1},{"c":"Xbp1s","a":4.65,"b":5.35,"w":3.5,"i":0.8},{"c":"Xbp1s","a":5.65,"b":6.35,"w":3.5,"i":0.85},{"c":"β-actin","a":0.65,"b":1.42,"w":5,"i":1},{"c":"β-actin","a":1.65,"b":2.38,"w":5,"i":1},{"c":"β-actin","a":2.62,"b":3.38,"w":5,"i":1},{"c":"β-actin","a":3.62,"b":4.38,"w":6,"i":1},{"c":"β-actin","a":4.64,"b":5.36,"w":5,"i":1},{"c":"β-actin","a":5.65,"b":6.35,"w":5,"i":1}]},"mark":{"type":"rule","color":"#111","strokeCap":"round"},"encoding":{"x2":{"field":"b"},"size":{"field":"w","type":"quantitative","scale":{"domain":[0,15],"range":[0,15]},"legend":null},"opacity":{"field":"i","type":"quantitative","scale":{"domain":[0,1],"range":[0,1]},"legend":null}}},
{"data":{"values":[{"c":"Xbp1s","a":3.65,"b":4.35}]},"mark":{"type":"rule","color":"#111","yOffset":-6,"strokeWidth":1.5,"opacity":0.6},"encoding":{"x2":{"field":"b"}}},
{"data":{"values":[{"c":"PHLDA3","a":0.45,"b":3.3},{"c":"PHLDA3","a":3.59,"b":6.44}]},"mark":{"type":"rule","color":"#222","strokeWidth":1.3,"yOffset":-30.5},"encoding":{"x2":{"field":"b"}}},
{"data":{"values":[{"c":"PHLDA3","a":1.88,"t":"No hepatitis"},{"c":"PHLDA3","a":5.01,"t":"Hepatitis"}]},"mark":{"type":"text","fontSize":10.5,"dy":-40},"encoding":{"text":{"field":"t"}}},
{"data":{"values":[{"c":"PHLDA3","a":3.3,"t":"Human liver (HCV patients)"}]},"mark":{"type":"text","fontSize":11.5,"dy":-72},"encoding":{"text":{"field":"t"}}}
]},

{"encoding":{"x":{"field":"c","type":"nominal","scale":{"type":"band","domain":["Vehicle","CCl₄"],"range":[33,121],"paddingInner":0,"paddingOuter":0.232},"axis":{"orient":"bottom","offset":-201,"title":null,"ticks":false,"labelAngle":0,"labelFontSize":11,"labelPadding":5}},"y":{"field":"v","type":"quantitative","scale":{"domain":[0,5],"range":[645,532],"nice":false},"axis":{"orient":"left","offset":-33,"values":[0,1,2,3,4,5],"title":"Rel. PHLDA3 mRNA level"}}},
"layer":[
{"data":{"values":[{"c":"Vehicle","v":1.02,"u":1.42},{"c":"CCl₄","v":3.8,"u":4.52}]},"layer":[
{"mark":{"type":"rule","color":"#111","strokeWidth":1.5},"encoding":{"y2":{"field":"u"}}},
{"mark":{"type":"tick","size":7,"color":"#111"},"encoding":{"y":{"field":"u","type":"quantitative"}}},
{"mark":{"type":"bar","size":22.5,"color":"#0a0505"}}]},
{"data":{"values":[{"c":"CCl₄","v":4.38,"t":"*"}]},"mark":{"type":"text","fontSize":18,"baseline":"alphabetic","color":"#666"},"encoding":{"text":{"field":"t"}}},
{"data":{"values":[{"c":"Vehicle","v":6.2,"t":"E"}]},"mark":{"type":"text","fontSize":16,"dx":-42},"encoding":{"text":{"field":"t"}}}
]},

{"encoding":{"x":{"field":"c","type":"nominal","scale":{"type":"band","domain":["Vehicle","CCl₄"],"range":[157,245],"paddingInner":0,"paddingOuter":0.232},"axis":{"orient":"bottom","offset":-201,"title":null,"ticks":false,"labelAngle":0,"labelFontSize":11,"labelPadding":5}},"y":{"field":"v","type":"quantitative","scale":{"domain":[0,10],"range":[645,532],"nice":false},"axis":{"orient":"left","offset":-157,"values":[0,2,4,6,8,10],"title":"Rel. GRP78 mRNA level"}}},
"layer":[
{"data":{"values":[{"c":"Vehicle","v":1.02,"u":1.35},{"c":"CCl₄","v":6.02,"u":7.42}]},"layer":[
{"mark":{"type":"rule","color":"#111","strokeWidth":1.5},"encoding":{"y2":{"field":"u"}}},
{"mark":{"type":"tick","size":7,"color":"#111"},"encoding":{"y":{"field":"u","type":"quantitative"}}},
{"mark":{"type":"bar","size":22.5,"color":"#0a0505"}}]},
{"data":{"values":[{"c":"CCl₄","v":7.52,"t":"*"}]},"mark":{"type":"text","fontSize":18,"baseline":"alphabetic","color":"#666"},"encoding":{"text":{"field":"t"}}}
]},

{"encoding":{"x":{"field":"c","type":"nominal","scale":{"type":"band","domain":["Vehicle","CCl₄"],"range":[283,373],"paddingInner":0,"paddingOuter":0.243,"align":0.364},"axis":{"orient":"bottom","offset":-201,"title":null,"ticks":false,"labelAngle":0,"labelFontSize":11,"labelPadding":5}},"y":{"field":"v","type":"quantitative","scale":{"domain":[0,6],"range":[645,532],"nice":false},"axis":{"orient":"left","offset":-283,"values":[0,1,2,3,4,5,6],"title":"Rel. Xbp1s mRNA level"}}},
"layer":[
{"data":{"values":[{"c":"Vehicle","v":1.02,"u":1.15},{"c":"CCl₄","v":4.55,"u":5.25}]},"layer":[
{"mark":{"type":"rule","color":"#111","strokeWidth":1.5},"encoding":{"y2":{"field":"u"}}},
{"mark":{"type":"tick","size":7,"color":"#111"},"encoding":{"y":{"field":"u","type":"quantitative"}}},
{"mark":{"type":"bar","size":22.5,"color":"#0a0505"}}]},
{"data":{"values":[{"c":"CCl₄","v":5.15,"t":"*"}]},"mark":{"type":"text","fontSize":18,"baseline":"alphabetic","color":"#666"},"encoding":{"text":{"field":"t"}}},
{"data":{"values":[{"c":"Vehicle","v":7.17,"t":"Mouse liver"}]},"mark":{"type":"text","fontSize":11,"dx":-17.5},"encoding":{"text":{"field":"t"}}}
]},

{"encoding":{"x":{"field":"x","type":"quantitative","scale":{"domain":[0,10],"range":[407,567],"nice":false},"axis":{"orient":"bottom","offset":-201,"values":[0,2,4,6,8,10],"titlePadding":2,"title":"Rel. Xbp1s mRNA level","titleFontSize":11.5}},"y":{"field":"y","type":"quantitative","scale":{"domain":[0,8],"range":[645,532],"nice":false},"axis":{"orient":"left","offset":-407,"values":[0,1,2,3,4,5,6,7,8],"title":"Rel. PHLDA3 mRNA level"}}},
"layer":[
{"data":{"values":[{"x":0.71,"y":0.7},{"x":1.04,"y":0.47},{"x":1.2,"y":1.85},{"x":2.4,"y":2.3},{"x":3.4,"y":4.5},{"x":3.5,"y":2.72},{"x":4.27,"y":6.24},{"x":5.94,"y":1.67},{"x":7.33,"y":5.33}]},"mark":{"type":"circle","size":24,"color":"#111","opacity":1}},
{"data":{"values":[{"x":0,"y":0.95},{"x":10,"y":6.65}]},"mark":{"type":"line","color":"#111","strokeWidth":1.5}},
{"data":{"values":[{"x":6.88,"y":8.35,"t":"r = 0.644"},{"x":6.88,"y":7.53,"t":"p = 0.06"}]},"mark":{"type":"text","fontSize":8.5,"align":"left"},"encoding":{"text":{"field":"t"}}}
]},

{"encoding":{"x":{"field":"c","type":"nominal","scale":{"type":"band","domain":["Control Vehicle","Control APAP","PBA Vehicle","PBA APAP"],"range":[615,773],"paddingInner":0,"paddingOuter":0.188,"align":0.415},"axis":{"orient":"bottom","offset":-201,"title":null,"ticks":false,"labelAngle":0,"labelFontSize":11,"labelPadding":5,"labelExpr":"split(datum.label,' ')[1]"}},"y":{"field":"v","type":"quantitative","stack":null,"scale":{"domain":[0,7],"range":[645,531],"nice":false},"axis":{"orient":"left","offset":-615,"values":[0,1,2,3,4,5,6,7],"title":"Rel. PHLDA3 mRNA level"}}},
"layer":[
{"data":{"values":[{"c":"Control Vehicle","g":"Vehicle","v":1.02,"u":1.3},{"c":"Control APAP","g":"APAP","v":4.95,"u":5.45},{"c":"PBA Vehicle","g":"Vehicle","v":1.5,"u":1.72},{"c":"PBA APAP","g":"APAP","v":2.5,"u":2.9}]},"layer":[
{"mark":{"type":"rule","color":"#111","strokeWidth":1.5},"encoding":{"y2":{"field":"u"}}},
{"mark":{"type":"tick","size":7,"color":"#111"},"encoding":{"y":{"field":"u","type":"quantitative"}}},
{"mark":{"type":"bar","size":22,"stroke":"#333","strokeWidth":1.5},"encoding":{"fill":{"field":"g","type":"nominal","scale":{"domain":["Vehicle","APAP"],"range":["white","#0a0505"]},"legend":null}}}]},
{"data":{"values":[{"c":"Control APAP","v":5.58,"t":"* *"}]},"mark":{"type":"text","fontSize":18,"baseline":"alphabetic","color":"#666"},"encoding":{"text":{"field":"t"}}},
{"data":{"values":[{"c":"PBA APAP","v":3.28,"t":"##"}]},"mark":{"type":"text","fontSize":10,"baseline":"alphabetic","color":"#666"},"encoding":{"text":{"field":"t"}}},
{"data":{"values":[{"c":"Control Vehicle","v":-1.24},{"c":"Control APAP","v":-1.24}]},"mark":{"type":"tick","size":36,"xOffset":-1.2,"color":"#222"}},
{"data":{"values":[{"c":"PBA Vehicle","v":-1.24},{"c":"PBA APAP","v":-1.24}]},"mark":{"type":"tick","size":36,"xOffset":1.2,"color":"#222"}},
{"data":{"values":[{"c":"Control Vehicle","v":-1.8,"t":"Control"},{"c":"PBA Vehicle","v":-1.8,"t":"PBA"}]},"mark":{"type":"text","fontSize":11,"dx":18},"encoding":{"text":{"field":"t"}}},
{"data":{"values":[{"c":"Control APAP","v":8.36,"t":"Mouse liver"}]},"mark":{"type":"text","fontSize":11,"dx":13},"encoding":{"text":{"field":"t"}}},
{"data":{"values":[{"c":"Control Vehicle","v":8.67,"t":"F"}]},"mark":{"type":"text","fontSize":16,"dx":-43},"encoding":{"text":{"field":"t"}}}
]},

{"encoding":{"x":{"field":"c","type":"nominal","scale":{"type":"band","domain":["Control","EtOH"],"range":[36,122],"paddingInner":0,"paddingOuter":0.194,"align":0.479},"axis":{"orient":"bottom","offset":-31,"title":null,"ticks":false,"labelAngle":0,"labelFontSize":11,"labelPadding":5}},"y":{"field":"v","type":"quantitative","scale":{"domain":[0,2.5],"range":[815,701],"nice":false},"axis":{"orient":"left","offset":-36,"values":[0,0.5,1,1.5,2,2.5],"labelExpr":"datum.value==0?'0':format(datum.value,'.1f')","title":"Rel. PHLDA3 mRNA level"}}},
"layer":[
{"data":{"values":[{"c":"Control","v":1.0,"u":1.1},{"c":"EtOH","v":1.7,"u":1.87}]},"layer":[
{"mark":{"type":"rule","color":"#111","strokeWidth":1.5},"encoding":{"y2":{"field":"u"}}},
{"mark":{"type":"tick","size":7,"color":"#111"},"encoding":{"y":{"field":"u","type":"quantitative"}}},
{"mark":{"type":"bar","size":22.5,"color":"#0a0505"}}]},
{"data":{"values":[{"c":"EtOH","v":1.91,"t":"* *"}]},"mark":{"type":"text","fontSize":18,"baseline":"alphabetic","color":"#666"},"encoding":{"text":{"field":"t"}}}
]},

{"encoding":{"x":{"field":"c","type":"nominal","scale":{"type":"band","domain":["Control","EtOH"],"range":[159,247],"paddingInner":0,"paddingOuter":0.222,"align":0.48},"axis":{"orient":"bottom","offset":-31,"title":null,"ticks":false,"labelAngle":0,"labelFontSize":11,"labelPadding":5}},"y":{"field":"v","type":"quantitative","scale":{"domain":[0,2.5],"range":[815,701],"nice":false},"axis":{"orient":"left","offset":-159,"values":[0,0.5,1,1.5,2,2.5],"labelExpr":"datum.value==0?'0':format(datum.value,'.1f')","title":"Rel. GRP78 mRNA level"}}},
"layer":[
{"data":{"values":[{"c":"Control","v":1.0,"u":1.07},{"c":"EtOH","v":1.58,"u":1.76}]},"layer":[
{"mark":{"type":"rule","color":"#111","strokeWidth":1.5},"encoding":{"y2":{"field":"u"}}},
{"mark":{"type":"tick","size":7,"color":"#111"},"encoding":{"y":{"field":"u","type":"quantitative"}}},
{"mark":{"type":"bar","size":22.5,"color":"#0a0505"}}]},
{"data":{"values":[{"c":"EtOH","v":1.84,"t":"*"}]},"mark":{"type":"text","fontSize":18,"baseline":"alphabetic","color":"#666"},"encoding":{"text":{"field":"t"}}}
]},

{"encoding":{"x":{"field":"c","type":"nominal","scale":{"type":"band","domain":["Control","EtOH"],"range":[283,371],"paddingInner":0,"paddingOuter":0.215,"align":0.41},"axis":{"orient":"bottom","offset":-31,"title":null,"ticks":false,"labelAngle":0,"labelFontSize":11,"labelPadding":4}},"y":{"field":"v","type":"quantitative","scale":{"domain":[0,12],"range":[815,701],"nice":false},"axis":{"orient":"left","offset":-283,"values":[0,3,6,9,12],"title":"Rel. Xbp1s mRNA level"}}},
"layer":[
{"data":{"values":[{"c":"Control","v":1.0,"u":1.2},{"c":"EtOH","v":8.35,"u":10.0}]},"layer":[
{"mark":{"type":"rule","color":"#111","strokeWidth":1.5},"encoding":{"y2":{"field":"u"}}},
{"mark":{"type":"tick","size":7,"color":"#111"},"encoding":{"y":{"field":"u","type":"quantitative"}}},
{"mark":{"type":"bar","size":22.5,"color":"#0a0505"}}]},
{"data":{"values":[{"c":"EtOH","v":10.0,"t":"* *"}]},"mark":{"type":"text","fontSize":18,"baseline":"alphabetic","color":"#666"},"encoding":{"text":{"field":"t"}}},
{"data":{"values":[{"c":"Control","v":14.2,"t":"Mouse liver"}]},"mark":{"type":"text","fontSize":11,"dx":-17.5},"encoding":{"text":{"field":"t"}}}
]},

{"encoding":{"x":{"field":"x","type":"quantitative","scale":{"domain":[-4.36,25],"range":[407,567],"nice":false,"zero":false},"axis":{"orient":"bottom","offset":-33,"values":[0,5,10,15,20,25],"titlePadding":2,"title":"Rel. Xbp1s mRNA level","titleFontSize":11.5}},"y":{"field":"y","type":"quantitative","scale":{"domain":[0,3.5],"range":[813,699],"nice":false},"axis":{"orient":"left","offset":-407,"values":[0,0.5,1,1.5,2,2.5,3,3.5],"labelExpr":"datum.value==0?'0':format(datum.value,'.1f')","title":"Rel. PHLDA3 mRNA level"}}},
"layer":[
{"data":{"values":[{"x":0.3,"y":0.72},{"x":0.6,"y":0.77},{"x":0.74,"y":0.79},{"x":0.6,"y":1.31},{"x":0.74,"y":1.07},{"x":1.5,"y":1.07},{"x":1.3,"y":1.65},{"x":2.27,"y":1.6},{"x":1.23,"y":0.87},{"x":2.2,"y":0.83},{"x":3.3,"y":1.14},{"x":4.1,"y":2.54},{"x":5.3,"y":1.8},{"x":6.1,"y":1.84},{"x":6.45,"y":1.13},{"x":7.8,"y":1.33},{"x":9.3,"y":1.86},{"x":10.1,"y":1.73},{"x":17.75,"y":1.03},{"x":18.86,"y":2.8}]},"mark":{"type":"circle","size":24,"color":"#111","opacity":1}},
{"data":{"values":[{"x":-4.36,"y":0.85},{"x":25,"y":2.5}]},"mark":{"type":"line","color":"#111","strokeWidth":1.5}},
{"data":{"values":[{"x":15.8,"y":3.55,"t":"r = 0.528"},{"x":15.8,"y":3.2,"t":"p < 0.05"}]},"mark":{"type":"text","fontSize":8.5,"align":"left"},"encoding":{"text":{"field":"t"}}}
]},

{"encoding":{"x":{"field":"c","type":"nominal","scale":{"type":"band","domain":["Control Vehicle","Control APAP","PBA Vehicle","PBA APAP"],"range":[616,773],"paddingInner":0,"paddingOuter":0.18,"align":0.46},"axis":{"orient":"bottom","offset":-33,"title":null,"ticks":false,"labelAngle":0,"labelFontSize":11,"labelPadding":4,"labelExpr":"split(datum.label,' ')[1]"}},"y":{"field":"v","type":"quantitative","stack":null,"scale":{"domain":[0,10],"range":[813,699],"nice":false},"axis":{"orient":"left","offset":-616,"values":[0,2,4,6,8,10],"title":"Rel. GRP78 mRNA level"}}},
"layer":[
{"data":{"values":[{"c":"Control Vehicle","g":"Vehicle","v":1.0,"u":1.2},{"c":"Control APAP","g":"APAP","v":7.3,"u":8.4},{"c":"PBA Vehicle","g":"Vehicle","v":1.12,"u":1.3},{"c":"PBA APAP","g":"APAP","v":3.7,"u":3.95}]},"layer":[
{"mark":{"type":"rule","color":"#111","strokeWidth":1.5},"encoding":{"y2":{"field":"u"}}},
{"mark":{"type":"tick","size":7,"color":"#111"},"encoding":{"y":{"field":"u","type":"quantitative"}}},
{"mark":{"type":"bar","size":22,"stroke":"#333","strokeWidth":1.5},"encoding":{"fill":{"field":"g","type":"nominal","scale":{"domain":["Vehicle","APAP"],"range":["white","#0a0505"]},"legend":null}}}]},
{"data":{"values":[{"c":"Control APAP","v":8.25,"t":"* *"}]},"mark":{"type":"text","fontSize":18,"baseline":"alphabetic","color":"#666"},"encoding":{"text":{"field":"t"}}},
{"data":{"values":[{"c":"PBA APAP","v":4.47,"t":"#"}]},"mark":{"type":"text","fontSize":10,"baseline":"alphabetic","color":"#666"},"encoding":{"text":{"field":"t"}}},
{"data":{"values":[{"c":"Control Vehicle","v":-1.75},{"c":"Control APAP","v":-1.75}]},"mark":{"type":"tick","size":36,"xOffset":-1.2,"color":"#222"}},
{"data":{"values":[{"c":"PBA Vehicle","v":-1.75},{"c":"PBA APAP","v":-1.75}]},"mark":{"type":"tick","size":36,"xOffset":1.2,"color":"#222"}},
{"data":{"values":[{"c":"Control Vehicle","v":-2.3,"t":"Control"},{"c":"PBA Vehicle","v":-2.3,"t":"PBA"}]},"mark":{"type":"text","fontSize":10.5,"dx":18},"encoding":{"text":{"field":"t"}}}
]}
]}
